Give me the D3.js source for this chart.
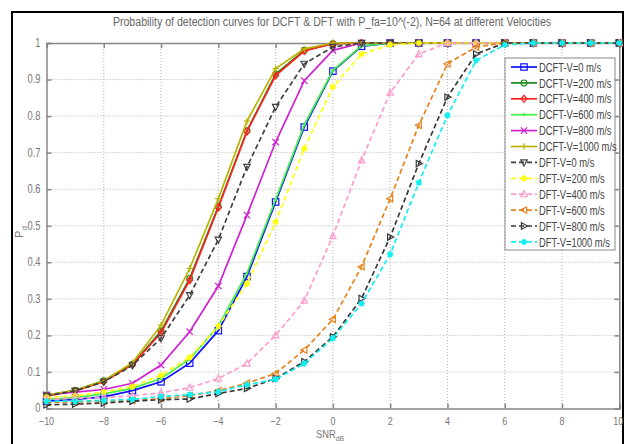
<!DOCTYPE html>
<html><head><meta charset="utf-8">
<script src="https://cdn.jsdelivr.net/npm/d3@7"></script>
<style>
body{margin:0;background:#fff;}
text{font-family:'Liberation Sans','Arial',sans-serif;}
</style></head>
<body><svg id="c" width="625" height="444"></svg>
<script>
const snr = [-10,-9,-8,-7,-6,-5,-4,-3,-2,-1,0,1,2,3,4,5,6,7,8,9,10];
const xTicks = [-10,-8,-6,-4,-2,0,2,4,6,8,10];
const yTicks = [0,0.1,0.2,0.3,0.4,0.5,0.6,0.7,0.8,0.9,1];
const yTickLabels = ["0","0.1","0.2","0.3","0.4","0.5","0.6","0.7","0.8","0.9","1"];

const dcft0    = [0.020,0.025,0.032,0.049,0.073,0.124,0.213,0.361,0.565,0.770,0.923,0.991,1,1,1,1,1,1,1,1,1];
const dcft200  = [0.036,0.050,0.076,0.121,0.212,0.356,0.553,0.760,0.915,0.980,0.998,1,1,1,1,1,1,1,1,1,1];
const dcft400  = [0.034,0.048,0.073,0.120,0.207,0.351,0.550,0.758,0.911,0.978,0.998,1,1,1,1,1,1,1,1,1,1];
const dcft600  = [0.025,0.030,0.040,0.055,0.082,0.135,0.225,0.370,0.572,0.776,0.925,0.992,1,1,1,1,1,1,1,1,1];
const dcft800  = [0.038,0.045,0.052,0.069,0.119,0.210,0.335,0.529,0.729,0.897,0.980,1,1,1,1,1,1,1,1,1,1];
const dcft1000 = [0.037,0.050,0.076,0.125,0.228,0.383,0.574,0.786,0.930,0.984,1,1,1,1,1,1,1,1,1,1,1];
const dft0     = [0.035,0.048,0.073,0.118,0.192,0.310,0.462,0.661,0.825,0.943,0.989,1,1,1,1,1,1,1,1,1,1];
const dft200   = [0.030,0.035,0.045,0.060,0.091,0.140,0.225,0.342,0.510,0.711,0.880,0.970,0.995,1,1,1,1,1,1,1,1];
const dft400   = [0.025,0.028,0.030,0.035,0.043,0.057,0.082,0.123,0.200,0.295,0.472,0.679,0.864,0.970,1,1,1,1,1,1,1];
const dft600   = [0.017,0.018,0.020,0.022,0.027,0.035,0.049,0.069,0.096,0.160,0.244,0.388,0.574,0.775,0.943,0.989,1,1,1,1,1];
const dft800   = [0.010,0.012,0.015,0.020,0.024,0.026,0.041,0.055,0.082,0.128,0.196,0.301,0.469,0.670,0.852,0.970,1,1,1,1,1];
const dft1000  = [0.020,0.020,0.022,0.025,0.033,0.038,0.046,0.065,0.080,0.123,0.192,0.287,0.422,0.618,0.802,0.952,0.995,1,1,1,1];

const seriesNames = ["DCFT-V=0 m/s","DCFT-V=200 m/s","DCFT-V=400 m/s","DCFT-V=600 m/s","DCFT-V=800 m/s","DCFT-V=1000 m/s",
  "DFT-V=0 m/s","DFT-V=200 m/s","DFT-V=400 m/s","DFT-V=600 m/s","DFT-V=800 m/s","DFT-V=1000 m/s"];
const seriesValues = [dcft0,dcft200,dcft400,dcft600,dcft800,dcft1000,dft0,dft200,dft400,dft600,dft800,dft1000];
const colors = ["#1010ff","#1b8a1b","#ff2020","#44f044","#d020d0","#b8b400","#404040","#ffff10","#ff9ccc","#e8821a","#383838","#10f0f0"];
const markers = ["square","circle","diamond","point","x","plus","tridown","star","triup","trileft","triright","star"];
const dashed = [false,false,false,false,false,false,true,true,true,true,true,true];

const svg = d3.select("#c");
const L=46.5, R=619.3, T=43, B=408.5;
const x = d3.scaleLinear().domain([-10,10]).range([L,R]);
const y = d3.scaleLinear().domain([0,1]).range([B,T]);

// outer frame
svg.append("rect").attr("x",12).attr("y",12).attr("width",611).attr("height",440)
  .attr("fill","#fff").attr("stroke","#000").attr("stroke-width",2);

// title (narrow look via horizontal scale)
svg.append("text").attr("transform","translate(332,26) scale(0.86,1)").attr("text-anchor","middle")
  .attr("font-size",12.3).attr("fill","#666")
  .text("Probability of detection curves for DCFT & DFT with P_fa=10^(-2), N=64 at different Velocities");

// plot background
svg.append("rect").attr("x",L).attr("y",T).attr("width",R-L).attr("height",B-T).attr("fill","#fff");

// grid
const g = svg.append("g");
g.selectAll(".vg").data(xTicks.slice(1,-1)).enter().append("line")
  .attr("x1",d=>x(d)).attr("x2",d=>x(d)).attr("y1",T).attr("y2",B)
  .attr("stroke","#b0b0b0").attr("stroke-width",1).attr("stroke-dasharray","1,2");
g.selectAll(".hg").data(yTicks.slice(1,-1)).enter().append("line")
  .attr("y1",d=>y(d)).attr("y2",d=>y(d)).attr("x1",L).attr("x2",R)
  .attr("stroke","#b0b0b0").attr("stroke-width",1).attr("stroke-dasharray","1,2");

// axes (tick marks from d3 axes, labels drawn narrow)
const axCol="#888";
const xb = svg.append("g").attr("transform",`translate(0,${B})`)
  .call(d3.axisBottom(x).tickValues(xTicks).tickSize(-5).tickFormat(""));
const xt = svg.append("g").attr("transform",`translate(0,${T})`)
  .call(d3.axisTop(x).tickValues(xTicks).tickSize(-5).tickFormat(""));
const yl = svg.append("g").attr("transform",`translate(${L},0)`)
  .call(d3.axisLeft(y).tickValues(yTicks).tickSize(-5).tickFormat(""));
const yr = svg.append("g").attr("transform",`translate(${R},0)`)
  .call(d3.axisRight(y).tickValues(yTicks).tickSize(-5).tickFormat(""));
[xb,xt,yl,yr].forEach(a=>{
  a.selectAll("path").attr("stroke",axCol).attr("stroke-width",1.5);
  a.selectAll("line").attr("stroke",axCol).attr("stroke-width",1.5);
});
svg.append("g").selectAll("text").data(xTicks).enter().append("text")
  .attr("transform",(d,i)=>`translate(${i===xTicks.length-1 ? x(d)+4 : x(d)},${B+12}) scale(0.78,1)`)
  .attr("text-anchor",(d,i)=>i===xTicks.length-1?"end":"middle")
  .attr("dy","0.35em").attr("font-size",11.5).attr("fill","#777").text(d=>d3.format("d")(d));
svg.append("g").selectAll("text").data(yTicks).enter().append("text")
  .attr("transform",d=>`translate(${L-6},${y(d)}) scale(0.78,1)`)
  .attr("text-anchor","end").attr("dy","0.32em").attr("font-size",12).attr("fill","#777")
  .text((d,i)=>yTickLabels[i]);

// axis labels
const xlab = svg.append("text").attr("transform","translate(330,438) scale(0.85,1)").attr("text-anchor","middle")
  .attr("font-size",11).attr("fill","#777");
xlab.append("tspan").text("SNR");
xlab.append("tspan").attr("font-size",8).attr("dy",3).text("dB");
const ylab = svg.append("text").attr("transform","translate(23,232) rotate(-90)").attr("text-anchor","middle")
  .attr("font-size",11).attr("fill","#777");
ylab.append("tspan").text("P");
ylab.append("tspan").attr("font-size",8).attr("dy",4).text("d");

// marker drawing
function drawMarker(sel, type, color, cx, cy, s){
  s = s||3.2;
  const gg = sel.append("g").attr("transform",`translate(${cx},${cy})`);
  const st = {fill:"none",stroke:color,"stroke-width":1.2};
  function ap(tag, attrs){const e=gg.append(tag);Object.entries(Object.assign({},st,attrs)).forEach(([k,v])=>e.attr(k,v));return e;}
  switch(type){
    case "square": ap("rect",{x:-s,y:-s,width:2*s,height:2*s}); break;
    case "circle": ap("circle",{r:s*0.9}); break;
    case "diamond": ap("path",{d:`M0,${-s*1.1}L${s*0.9},0L0,${s*1.1}L${-s*0.9},0Z`}); break;
    case "point": ap("circle",{r:1,fill:color}); break;
    case "x": ap("path",{d:`M${-s},${-s}L${s},${s}M${-s},${s}L${s},${-s}`}); break;
    case "plus": ap("path",{d:`M${-s},0L${s},0M0,${-s}L0,${s}`}); break;
    case "triup": ap("path",{d:`M0,${-s*1.1}L${s},${s*0.8}L${-s},${s*0.8}Z`}); break;
    case "tridown": ap("path",{d:`M0,${s*1.1}L${s},${-s*0.8}L${-s},${-s*0.8}Z`}); break;
    case "trileft": ap("path",{d:`M${-s*1.1},0L${s*0.8},${-s}L${s*0.8},${s}Z`}); break;
    case "triright": ap("path",{d:`M${s*1.1},0L${-s*0.8},${-s}L${-s*0.8},${s}Z`}); break;
    case "star": ap("path",{d:`M${-s},0L${s},0M0,${-s}L0,${s}M${-s*0.7},${-s*0.7}L${s*0.7},${s*0.7}M${-s*0.7},${s*0.7}L${s*0.7},${-s*0.7}`,"stroke-width":1.5}); break;
  }
}

// series
const line = d3.line().x((d,i)=>x(snr[i])).y(d=>y(d));
const plot = svg.append("g");
seriesValues.forEach((vals,k)=>{
  plot.append("path").attr("d",line(vals)).attr("fill","none")
    .attr("stroke",colors[k]).attr("stroke-width",1.7)
    .attr("stroke-dasharray",dashed[k]?"5,3":null);
  vals.forEach((v,i)=>drawMarker(plot,markers[k],colors[k],x(snr[i]),y(v)));
});

// legend
const lg = svg.append("g");
const lx=505, ly=58, lw=110, lh=192;
lg.append("rect").attr("x",lx).attr("y",ly).attr("width",lw).attr("height",lh)
  .attr("fill","#fff").attr("stroke","#888").attr("stroke-width",1);
seriesNames.forEach((name,k)=>{
  const yy = ly+9+k*15.9;
  lg.append("line").attr("x1",lx+6).attr("x2",lx+32).attr("y1",yy).attr("y2",yy)
    .attr("stroke",colors[k]).attr("stroke-width",1.7).attr("stroke-dasharray",dashed[k]?"5,3":null);
  drawMarker(lg,markers[k],colors[k],lx+19,yy);
  lg.append("text").attr("transform",`translate(${lx+34},${yy}) scale(0.72,1)`).attr("dy","0.36em")
    .attr("font-size",13).attr("fill","#444").text(name);
});
</script></body></html>
